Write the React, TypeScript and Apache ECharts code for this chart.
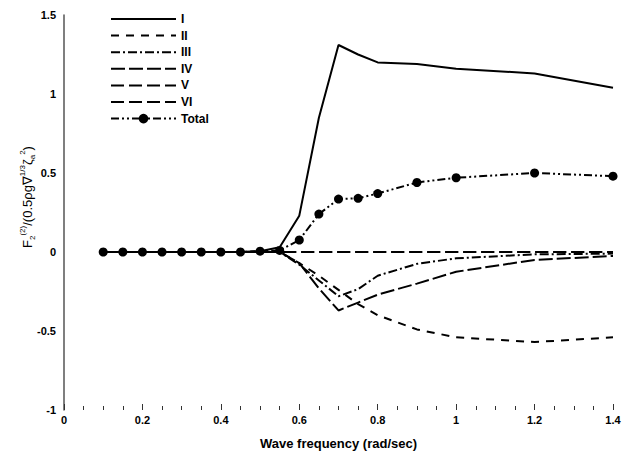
import React, { useEffect, useRef } from "react";
import * as echarts from "echarts";

const freqs = [0.1, 0.15, 0.2, 0.25, 0.3, 0.35, 0.4, 0.45, 0.5, 0.55, 0.6, 0.65, 0.7, 0.75, 0.8, 0.9, 1.0, 1.2, 1.4];
const seriesI = [0, 0, 0, 0, 0, 0, 0, 0, 0.005, 0.03, 0.23, 0.85, 1.31, 1.25, 1.2, 1.19, 1.16, 1.13, 1.04];
const seriesII = [0, 0, 0, 0, 0, 0, 0, 0, 0, 0, -0.07, -0.15, -0.24, -0.33, -0.4, -0.49, -0.54, -0.57, -0.54];
const seriesIII = [0, 0, 0, 0, 0, 0, 0, 0, 0, 0, -0.08, -0.18, -0.28, -0.235, -0.15, -0.075, -0.04, -0.015, -0.01];
const seriesIV = [0, 0, 0, 0, 0, 0, 0, 0, 0, 0, -0.07, -0.23, -0.37, -0.32, -0.27, -0.2, -0.125, -0.05, -0.025];
const seriesV = [0, 0, 0, 0, 0, 0, 0, 0, 0, 0, 0, 0, 0, 0, 0, 0, 0, 0, 0];
const seriesVI = [0, 0, 0, 0, 0, 0, 0, 0, 0, 0, 0, 0, 0, 0, 0, 0, 0, 0, 0];
const seriesTotal = [0, 0, 0, 0, 0, 0, 0, 0, 0.005, 0.01, 0.076, 0.24, 0.335, 0.34, 0.37, 0.44, 0.47, 0.5, 0.48];

const names = ["I", "II", "III", "IV", "V", "VI", "Total"];
const values = [seriesI, seriesII, seriesIII, seriesIV, seriesV, seriesVI, seriesTotal];
const dashes: (number[] | "solid")[] = ["solid", [8, 7], [9, 3, 2, 3], [14, 4], [13, 5], [13, 5], [8, 3, 2, 3, 2, 3]];

const FONT = "'Liberation Sans', Arial, sans-serif";

export default function App() {
  const ref = useRef<HTMLDivElement>(null);
  useEffect(() => {
    if (!ref.current) return;
    const chart = echarts.init(ref.current, null, { renderer: "svg" });
    const series = names.map((n, i) => ({
      name: n,
      type: "line",
      data: freqs.map((x, j) => [x, values[i][j]]),
      symbol: n === "Total" ? "circle" : "none",
      symbolSize: 9,
      showSymbol: n === "Total",
      itemStyle: { color: "#000" },
      lineStyle: { color: "#000", width: 2, type: dashes[i] },
      z: n === "Total" ? 5 : 3,
    }));
    chart.setOption({
      animation: false,
      backgroundColor: "#fff",
      grid: { left: 64, right: 9, top: 15, bottom: 47, outerBoundsMode: "none" },
      legend: {
        orient: "vertical",
        left: 105,
        top: 8,
        itemWidth: 65,
        itemHeight: 12,
        itemGap: 4.6,
        data: names.map((n) =>
          n === "Total"
            ? { name: n }
            : { name: n, itemStyle: { color: "rgba(0,0,0,0)", borderWidth: 0 } }
        ),
        textStyle: { fontFamily: FONT, fontWeight: "bold", fontSize: 12, color: "#000", lineHeight: 12 },
      },
      xAxis: {
        type: "value",
        min: 0,
        max: 1.4,
        interval: 0.2,
        name: "Wave frequency (rad/sec)",
        nameLocation: "middle",
        nameGap: 27,
        nameTextStyle: { fontFamily: FONT, fontWeight: "bold", fontSize: 13, color: "#000" },
        axisLine: { show: false, onZero: false },
        axisTick: { show: true, inside: true, length: 6, lineStyle: { color: "#333", width: 1 } },
        minorTick: { show: true, splitNumber: 4, length: 4, lineStyle: { color: "#333", width: 1 } },
        splitLine: { show: false },
        axisLabel: { fontFamily: FONT, fontWeight: "bold", fontSize: 11, color: "#000", margin: 4 },
      },
      yAxis: {
        type: "value",
        min: -1,
        max: 1.5,
        interval: 0.5,
        axisLine: { show: true, onZero: false, lineStyle: { color: "#555", width: 1.5 } },
        axisTick: { show: false },
        splitLine: { show: false },
        axisLabel: { fontFamily: FONT, fontWeight: "bold", fontSize: 11, color: "#000", margin: 8 },
      },
      graphic: [
        {
          type: "text",
          x: 27,
          y: 197,
          rotation: Math.PI / 2,
          style: {
            text: "{n|F}{s|2}{p|(2)}{n|/(0.5ρg∇}{p|1/3}{n|ζ}{s|a}{p|2}{n|)}",
            align: "center",
            verticalAlign: "middle",
            fill: "#000",
            rich: {
              n: { fontFamily: FONT, fontSize: 13, fill: "#000", lineHeight: 18, verticalAlign: "middle" },
              s: { fontFamily: FONT, fontSize: 8, fill: "#000", lineHeight: 18, verticalAlign: "bottom" },
              p: { fontFamily: FONT, fontSize: 8, fill: "#000", lineHeight: 18, verticalAlign: "top" },
            },
          },
        },
      ],
      series,
    });
    return () => chart.dispose();
  }, []);
  return <div ref={ref} style={{ width: 622, height: 457, position: "absolute", left: 0, top: 0 }} />;
}
